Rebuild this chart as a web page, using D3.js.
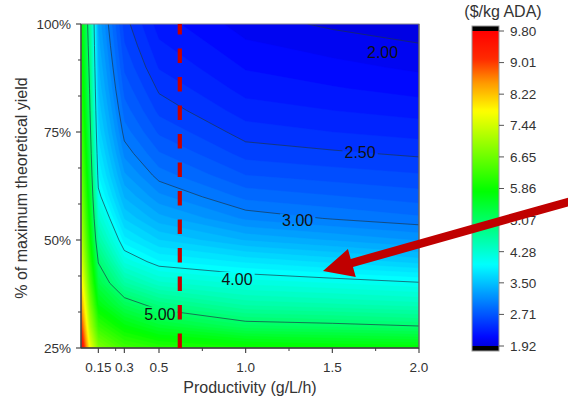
<!DOCTYPE html>
<html>
<head>
<meta charset="utf-8">
<script src="https://cdn.jsdelivr.net/npm/d3@7"></script>
<style>
  body { margin: 0; background: #fff; }
  svg { display: block; }
  text { font-family: "Liberation Sans", Arial, sans-serif; }
</style>
</head>
<body>
<svg id="chart" width="568" height="401"></svg>
<script>
// ---- data -------------------------------------------------------------
// productivity (g/L/h) columns and yield (% of theoretical) rows of the cost grid
const productivity = [0.05, 0.1, 0.15, 0.3, 0.5, 1.0, 1.5, 2.0];
const yieldPct = [25, 30, 35, 40, 45, 50, 55, 60, 65, 70, 75, 80, 85, 90, 95, 100];

// production cost ($/kg ADA) per productivity column, ordered like yieldPct
const cost_p005 = [9.80, 9.10, 8.50, 8.00, 7.60, 7.30, 7.05, 6.85, 6.65, 6.50, 6.35, 6.20, 6.10, 6.00, 5.90, 5.80];
const cost_p010 = [7.75, 7.20, 6.80, 6.45, 6.16, 5.92, 5.72, 5.55, 5.40, 5.27, 5.16, 5.06, 4.98, 4.90, 4.82, 4.75];
const cost_p015 = [6.80, 6.20, 5.70, 5.30, 4.98, 4.61, 4.32, 4.07, 3.90, 3.78, 3.66, 3.57, 3.48, 3.41, 3.34, 3.28];
const cost_p030 = [6.30, 5.75, 5.19, 4.62, 4.17, 3.84, 3.59, 3.39, 3.22, 3.07, 2.95, 2.85, 2.76, 2.68, 2.61, 2.55];
const cost_p050 = [6.10, 5.45, 4.87, 4.33, 3.91, 3.60, 3.34, 3.13, 2.95, 2.81, 2.68, 2.57, 2.48, 2.39, 2.32, 2.25];
const cost_p100 = [5.93, 5.13, 4.58, 4.17, 3.78, 3.39, 3.08, 2.87, 2.70, 2.56, 2.45, 2.35, 2.26, 2.19, 2.12, 2.05];
const cost_p150 = [5.85, 5.08, 4.52, 4.10, 3.67, 3.29, 2.99, 2.81, 2.65, 2.52, 2.40, 2.30, 2.21, 2.13, 2.06, 1.98];
const cost_p200 = [5.80, 5.01, 4.45, 4.02, 3.56, 3.19, 2.92, 2.75, 2.61, 2.48, 2.36, 2.26, 2.16, 2.08, 2.01, 1.92];
const costColumns = [cost_p005, cost_p010, cost_p015, cost_p030, cost_p050, cost_p100, cost_p150, cost_p200];

// isolines drawn and labelled
const lineLevels = [2.0, 2.5, 3.0, 4.0, 5.0];
const contourLabels = [
  { level: 2.0, p: 1.79, dy: 15 },
  { level: 2.5, p: 1.66, dy: 0 },
  { level: 3.0, p: 1.30, dy: 5 },
  { level: 4.0, p: 0.95, dy: 6 },
  { level: 5.0, p: 0.505, dy: 4 }
];

// axis ticks
const xMajorTicks = [0.15, 0.3, 0.5, 1.0, 1.5, 2.0];
const xTickLabels = ["0.15", "0.3", "0.5", "1.0", "1.5", "2.0"];
const xMinorTicks = [0.25, 0.75, 1.25, 1.75];
const yMajorTicks = [25, 50, 75, 100];
const yTickLabels = ["25%", "50%", "75%", "100%"];
const yMinorTicks = [33.33, 41.67, 58.33, 66.67, 83.33, 91.67];

// colour bar
const cbMin = 1.92, cbMax = 9.80;
const cbTicks = [1.92, 2.71, 3.50, 4.28, 5.07, 5.86, 6.65, 7.44, 8.22, 9.01, 9.80];
const colorStops = [1.92, 2.15, 3.95, 5.80, 7.80, 8.50, 9.10, 9.80];
const colorRange = ["#0000e0", "#0008ff", "#00ffff", "#00ff00", "#ffff00", "#ff9900", "#ff2a00", "#ff0000"];

// reference productivity marker and annotation arrow (data coordinates)
const markerProductivity = 0.62;
const arrowTip = { p: 1.446, y: 42.8 };
const arrowTail = { p: 2.95, y: 59.8 };

// ---- layout -------------------------------------------------------------
const svg = d3.select("#chart");
const plot = { left: 81, right: 419, top: 24, bottom: 348 };
const x = d3.scaleLinear().domain([0.05, 2.0]).range([plot.left, plot.right]);
const y = d3.scaleLinear().domain([25, 100]).range([plot.bottom, plot.top]);
const color = d3.scaleLinear().domain(colorStops).range(colorRange).clamp(true);

const nx = productivity.length, ny = yieldPct.length;
const grid = [];
for (let j = 0; j < ny; j++) for (let i = 0; i < nx; i++) grid.push(costColumns[i][j]);

// contour coordinates are in cell units (value i sits at i + 0.5); map through the
// non-uniform data grid to pixels
function mapAxis(c, arr, n, scale) {
  const t = Math.max(0, Math.min(n - 1, c - 0.5));
  const i = Math.min(n - 2, Math.floor(t));
  const f = t - i;
  return scale(arr[i] + f * (arr[i + 1] - arr[i]));
}
const mapPt = pt => [mapAxis(pt[0], productivity, nx, x), mapAxis(pt[1], yieldPct, ny, y)];

function multiPolyPath(geom) {
  let d = "";
  geom.coordinates.forEach(poly => poly.forEach(ring => {
    ring.forEach((pt, k) => {
      const m = mapPt(pt);
      d += (k ? "L" : "M") + m[0].toFixed(2) + "," + m[1].toFixed(2);
    });
    d += "Z";
  }));
  return d;
}

const defs = svg.append("defs");
defs.append("clipPath").attr("id", "plotClip")
  .append("rect").attr("x", plot.left).attr("y", plot.top)
  .attr("width", plot.right - plot.left).attr("height", plot.bottom - plot.top);

// ---- filled contour bands ---------------------------------------------------
const step = 0.1;
const fillThresholds = d3.range(19, 99).map(k => k / 10);
const fillG = svg.append("g").attr("clip-path", "url(#plotClip)");
fillG.append("rect").attr("x", plot.left).attr("y", plot.top)
  .attr("width", plot.right - plot.left).attr("height", plot.bottom - plot.top)
  .attr("fill", color(cbMin));
const bands = d3.contours().size([nx, ny]).thresholds(fillThresholds)(grid);
fillG.selectAll("path.band").data(bands).join("path")
  .attr("class", "band")
  .attr("d", multiPolyPath)
  .attr("fill", d => color(d.value + step / 2))
  .attr("stroke", d => color(d.value + step / 2))
  .attr("stroke-width", 0.4);

// ---- isolines ---------------------------------------------------------------
const eps = 0.05;
function onSameEdge(a, b) {
  return (Math.abs(a[0] - plot.left) < eps && Math.abs(b[0] - plot.left) < eps) ||
         (Math.abs(a[0] - plot.right) < eps && Math.abs(b[0] - plot.right) < eps) ||
         (Math.abs(a[1] - plot.top) < eps && Math.abs(b[1] - plot.top) < eps) ||
         (Math.abs(a[1] - plot.bottom) < eps && Math.abs(b[1] - plot.bottom) < eps);
}
const isolines = lineLevels.map(level => {
  const geom = d3.contours().size([nx, ny]).thresholds([level])(grid)[0];
  const segs = [];
  geom.coordinates.forEach(poly => poly.forEach(ring => {
    const pts = ring.map(mapPt);
    for (let k = 0; k < pts.length - 1; k++) {
      const a = pts[k], b = pts[k + 1];
      if (onSameEdge(a, b)) continue;
      if (Math.hypot(a[0] - b[0], a[1] - b[1]) < 1e-6) continue;
      segs.push([a, b]);
    }
  }));
  let d = "", last = null;
  segs.forEach(([a, b]) => {
    if (!last || Math.hypot(last[0] - a[0], last[1] - a[1]) > 1e-6) d += "M" + a[0].toFixed(2) + "," + a[1].toFixed(2);
    d += "L" + b[0].toFixed(2) + "," + b[1].toFixed(2);
    last = b;
  });
  return { level, segs, d };
});

function lineYAt(level, px) {
  const iso = isolines.find(l => l.level === level);
  for (const [a, b] of iso.segs) {
    const lo = Math.min(a[0], b[0]), hi = Math.max(a[0], b[0]);
    if (px >= lo && px <= hi && hi > lo) {
      return a[1] + (px - a[0]) / (b[0] - a[0]) * (b[1] - a[1]);
    }
  }
  return null;
}

const mask = defs.append("mask").attr("id", "labelMask").attr("maskUnits", "userSpaceOnUse")
  .attr("x", 0).attr("y", 0).attr("width", 568).attr("height", 401);
mask.append("rect").attr("x", 0).attr("y", 0).attr("width", 568).attr("height", 401).attr("fill", "#fff");

const lineG = svg.append("g").attr("clip-path", "url(#plotClip)");
lineG.append("g").attr("mask", "url(#labelMask)")
  .selectAll("path").data(isolines).join("path")
  .attr("d", d => d.d)
  .attr("fill", "none")
  .attr("stroke", "#1c3448")
  .attr("stroke-opacity", 0.75)
  .attr("stroke-width", 0.9);

const labelG = svg.append("g");
contourLabels.forEach(lab => {
  const px = x(lab.p);
  const py = lineYAt(lab.level, px) + lab.dy;
  const t = labelG.append("text")
    .attr("x", px).attr("y", py).attr("dy", "0.36em")
    .attr("text-anchor", "middle")
    .attr("font-size", 16)
    .attr("fill", "#111")
    .text(lab.level.toFixed(2));
  const bb = t.node().getBBox();
  mask.append("rect").attr("x", bb.x - 2).attr("y", bb.y + 1)
    .attr("width", bb.width + 4).attr("height", bb.height - 2).attr("fill", "#000");
});

// ---- frame and axes -----------------------------------------------------------
svg.append("rect").attr("x", plot.left).attr("y", plot.top)
  .attr("width", plot.right - plot.left).attr("height", plot.bottom - plot.top)
  .attr("fill", "none").attr("stroke", "#8a8a8a").attr("stroke-width", 1);

const axisColor = "#3a3a3a";
const axG = svg.append("g");
axG.append("line").attr("x1", plot.left).attr("x2", plot.left).attr("y1", plot.top).attr("y2", plot.bottom)
  .attr("stroke", axisColor).attr("stroke-width", 1.3);
axG.append("line").attr("x1", plot.left).attr("x2", plot.right).attr("y1", plot.bottom).attr("y2", plot.bottom)
  .attr("stroke", axisColor).attr("stroke-width", 1.3);
axG.append("line").attr("x1", plot.right).attr("x2", plot.right).attr("y1", plot.top).attr("y2", plot.bottom)
  .attr("stroke", "#555").attr("stroke-width", 1);

xMajorTicks.forEach((v, i) => {
  axG.append("line").attr("x1", x(v)).attr("x2", x(v)).attr("y1", plot.bottom).attr("y2", plot.bottom + 5)
    .attr("stroke", axisColor).attr("stroke-width", 1.1);
  axG.append("text").attr("x", x(v)).attr("y", plot.bottom + 24)
    .attr("text-anchor", "middle").attr("font-size", 13.5).attr("fill", "#333")
    .text(xTickLabels[i]);
});
xMinorTicks.forEach(v => {
  axG.append("line").attr("x1", x(v)).attr("x2", x(v)).attr("y1", plot.bottom).attr("y2", plot.bottom + 3)
    .attr("stroke", axisColor).attr("stroke-width", 1);
});
yMajorTicks.forEach((v, i) => {
  axG.append("line").attr("x1", plot.left - 5).attr("x2", plot.left).attr("y1", y(v)).attr("y2", y(v))
    .attr("stroke", axisColor).attr("stroke-width", 1.1);
  axG.append("text").attr("x", plot.left - 10).attr("y", y(v)).attr("dy", "0.36em")
    .attr("text-anchor", "end").attr("font-size", 13.5).attr("fill", "#333")
    .text(yTickLabels[i]);
});
yMinorTicks.forEach(v => {
  axG.append("line").attr("x1", plot.left - 3).attr("x2", plot.left).attr("y1", y(v)).attr("y2", y(v))
    .attr("stroke", axisColor).attr("stroke-width", 1);
});

svg.append("text").attr("x", (plot.left + plot.right) / 2).attr("y", 393)
  .attr("text-anchor", "middle").attr("font-size", 16).attr("fill", "#333")
  .text("Productivity (g/L/h)");
svg.append("text").attr("transform", "translate(27,188) rotate(-90)")
  .attr("text-anchor", "middle").attr("font-size", 16).attr("fill", "#333")
  .text("% of maximum theoretical yield");

// ---- reference productivity marker ----------------------------------------------
svg.append("line")
  .attr("x1", x(markerProductivity)).attr("x2", x(markerProductivity))
  .attr("y1", y(25)).attr("y2", y(100))
  .attr("stroke", "#c80000").attr("stroke-width", 4.2)
  .attr("stroke-dasharray", "14.5,14");

// ---- colour bar -----------------------------------------------------------------
const cb = { x: 472, w: 27 };
const cbY = d3.scaleLinear().domain([cbMin, cbMax]).range([346, 31]);
const grad = defs.append("linearGradient").attr("id", "cbGrad")
  .attr("x1", 0).attr("y1", 1).attr("x2", 0).attr("y2", 0);
d3.range(0, 101).forEach(k => {
  const v = cbMin + (cbMax - cbMin) * k / 100;
  grad.append("stop").attr("offset", (k) + "%").attr("stop-color", color(v));
});
const cbG = svg.append("g");
cbG.append("rect").attr("x", cb.x).attr("y", cbY(cbMax)).attr("width", cb.w)
  .attr("height", cbY(cbMin) - cbY(cbMax)).attr("fill", "url(#cbGrad)");
cbG.append("rect").attr("x", cb.x).attr("y", cbY(cbMax) - 5).attr("width", cb.w).attr("height", 5).attr("fill", "#000");
cbG.append("rect").attr("x", cb.x).attr("y", cbY(cbMin)).attr("width", cb.w).attr("height", 5).attr("fill", "#000");
cbG.append("rect").attr("x", cb.x).attr("y", cbY(cbMax) - 5).attr("width", cb.w)
  .attr("height", cbY(cbMin) - cbY(cbMax) + 10).attr("fill", "none").attr("stroke", "#9a9a9a").attr("stroke-width", 1);
cbTicks.forEach(v => {
  cbG.append("line").attr("x1", cb.x + cb.w).attr("x2", cb.x + cb.w + 5).attr("y1", cbY(v)).attr("y2", cbY(v))
    .attr("stroke", "#555").attr("stroke-width", 1);
  cbG.append("text").attr("x", cb.x + cb.w + 11).attr("y", cbY(v)).attr("dy", "0.36em")
    .attr("font-size", 13.5).attr("fill", "#333").text(v.toFixed(2));
});
cbG.append("text").attr("x", 503).attr("y", 17).attr("text-anchor", "middle")
  .attr("font-size", 16).attr("fill", "#333").text("($/kg ADA)");

// ---- annotation arrow -----------------------------------------------------------
(function () {
  const tip = [x(arrowTip.p), y(arrowTip.y)];
  const tail = [x(arrowTail.p), y(arrowTail.y)];
  const dx = tip[0] - tail[0], dy = tip[1] - tail[1];
  const len = Math.hypot(dx, dy);
  const u = [dx / len, dy / len], n = [-u[1], u[0]];
  const headLen = 30, headHalf = 14.5, shaftHalf = 4.2;
  const base = [tip[0] - u[0] * headLen, tip[1] - u[1] * headLen];
  const pts = [
    [tail[0] + n[0] * shaftHalf, tail[1] + n[1] * shaftHalf],
    [base[0] + n[0] * shaftHalf, base[1] + n[1] * shaftHalf],
    [base[0] + n[0] * headHalf, base[1] + n[1] * headHalf],
    tip,
    [base[0] - n[0] * headHalf, base[1] - n[1] * headHalf],
    [base[0] - n[0] * shaftHalf, base[1] - n[1] * shaftHalf],
    [tail[0] - n[0] * shaftHalf, tail[1] - n[1] * shaftHalf]
  ];
  svg.append("path").attr("d", "M" + pts.map(p => p.join(",")).join("L") + "Z")
    .attr("fill", "#c00000");
})();
</script>
</body>
</html>
